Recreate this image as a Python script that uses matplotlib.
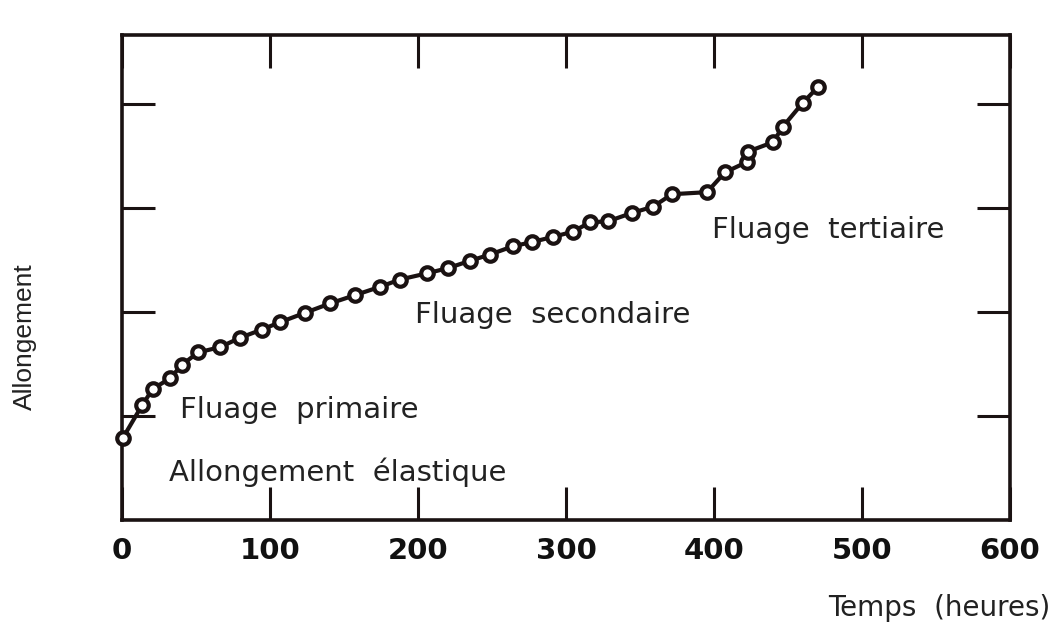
import numpy as np
from matplotlib import pyplot as plt

## Courbe de fluage (allongement en fonction du temps)

# temps (heures) et allongement (unites arbitraires)
temps = [0.7, 13.5, 20.9, 32.4, 40.5, 51.4, 66.2, 79.7, 94.6, 106.8,
         123.6, 140.5, 157.4, 174.3, 187.8, 206.1, 220.3, 235.1, 248.6, 264.2,
         277.0, 291.2, 304.7, 316.2, 328.4, 344.6, 358.8, 371.6, 395.3, 407.4,
         422.3, 423.0, 439.9, 446.6, 460.1, 470.3]
allongement = [0.79, 1.10, 1.26, 1.36, 1.49, 1.61, 1.66, 1.75, 1.83, 1.90,
               1.99, 2.08, 2.16, 2.24, 2.31, 2.37, 2.42, 2.49, 2.55, 2.63,
               2.67, 2.72, 2.77, 2.86, 2.87, 2.95, 3.01, 3.13, 3.15, 3.34,
               3.44, 3.54, 3.63, 3.78, 4.01, 4.16]

xticks = [0, 100, 200, 300, 400, 500, 600]
yticks = [1, 2, 3, 4]

# annotations: texte, temps, allongement
zones = [("Fluage  primaire", 39, 1.06),
         ("Allongement  élastique", 32, 0.46),
         ("Fluage  secondaire", 198, 1.97),
         ("Fluage  tertiaire", 399, 2.79)]

ink = '#1a1212'

fig = plt.figure(figsize=(10.56, 6.31), dpi=100)
ax = fig.add_axes([0.1155, 0.176, 0.8409, 0.7685])

ax.plot(temps, allongement, '-o', color=ink, lw=3,
        ms=9, mfc='white', mec=ink, mew=3, clip_on=False, zorder=3)

for txt, t, a in zones:
	ax.text(t, a, txt, fontsize=21, color='#222222', va='center', ha='left',
	        family='DejaVu Sans')

ax.set_xlim(0, 600)
ax.set_ylim(0, 4.66)
ax.set_xticks(xticks)
ax.set_xticklabels([str(v) for v in xticks], fontsize=21, fontweight='bold',
                   color='#111111')
ax.set_yticks(yticks)
ax.set_yticklabels([])

ax.tick_params(axis='both', direction='in', length=24, width=2.2, color=ink,
               top=True, right=True)
ax.tick_params(axis='x', pad=12)
for s in ax.spines.values():
	s.set_linewidth(2.6)
	s.set_color(ink)

fig.text(25/1056, 1-337/631, "Allongement", rotation=90, fontsize=19,
         family='Liberation Sans', va='center', ha='center', color='#222222')
fig.text(1050/1056, 1-608/631, "Temps  (heures)", fontsize=20,
         family='DejaVu Sans', va='center', ha='right', color='#222222')

plt.savefig('out.png', dpi=100)
